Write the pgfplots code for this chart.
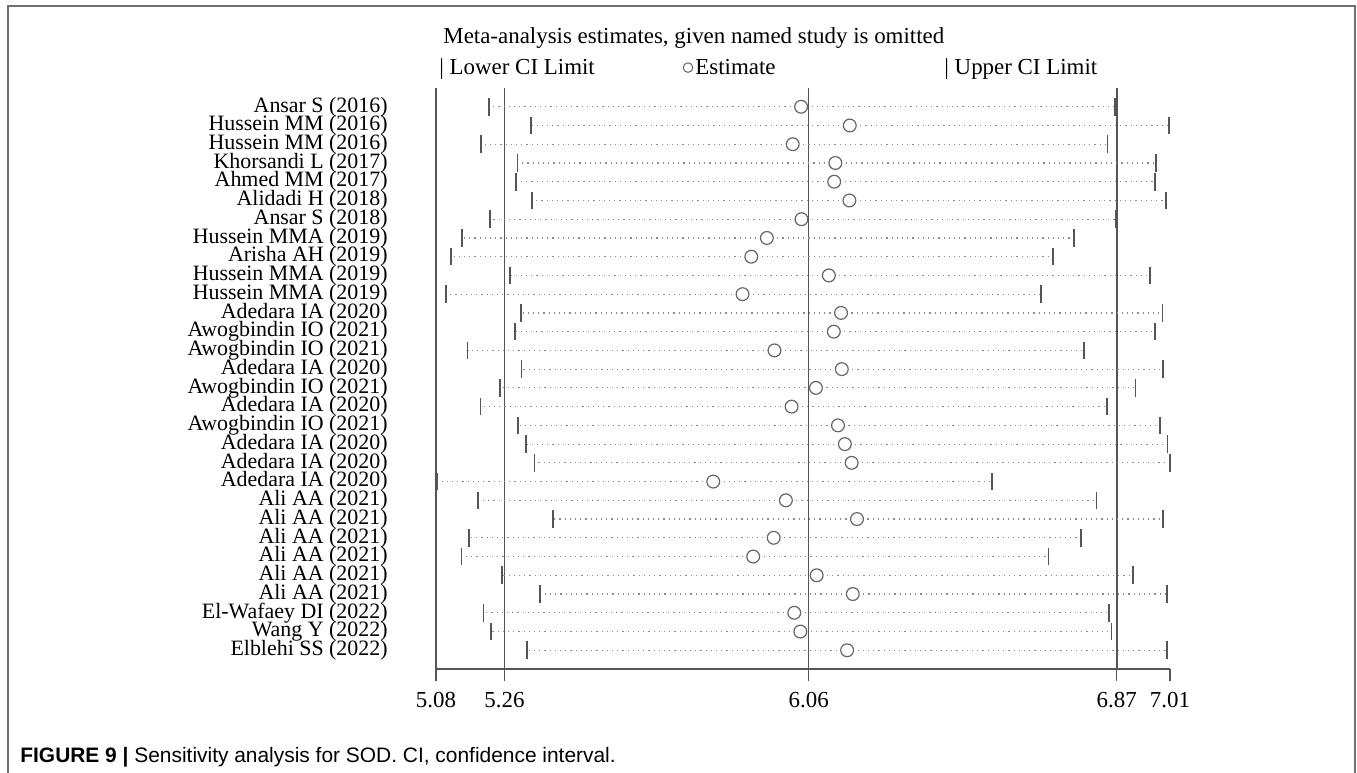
\documentclass[border=0pt]{standalone}
\usepackage{pgfplots}
\pgfplotsset{compat=1.18}
\usepackage{pgfplotstable}
\usepackage{fontspec}
\setmainfont{Liberation Serif}
\newfontfamily\capfont{Liberation Sans}
\definecolor{axgray}{HTML}{555555}
\definecolor{mkgray}{HTML}{666666}
\definecolor{dotgray}{HTML}{8A8A8A}
\definecolor{framegray}{HTML}{707070}

\pgfplotstableread{
y lo est hi
30 5.219 6.040 6.866
29 5.330 6.168 7.008
28 5.199 6.018 6.846
27 5.294 6.130 6.973
26 5.291 6.127 6.970
25 5.332 6.167 7.000
24 5.222 6.041 6.868
23 5.148 5.950 6.758
22 5.120 5.909 6.702
21 5.274 6.113 6.958
20 5.107 5.886 6.671
19 5.304 6.145 6.990
18 5.288 6.126 6.971
17 5.163 5.970 6.784
16 5.305 6.147 6.992
15 5.248 6.079 6.919
14 5.197 6.015 6.844
13 5.296 6.137 6.984
12 5.316 6.155 7.003
11 5.339 6.173 7.010
10 5.082 5.809 6.542
9 5.191 6.000 6.817
8 5.388 6.187 6.992
7 5.167 5.968 6.776
6 5.147 5.914 6.691
5 5.254 6.081 6.913
4 5.353 6.176 7.002
3 5.205 6.022 6.850
2 5.225 6.038 6.856
1 5.320 6.161 7.002
}\datatable

\begin{document}
\begin{tikzpicture}
\useasboundingbox (0,0) rectangle (678.5bp,-386.5bp);
% figure frame
\draw[framegray, line width=0.9bp] (4bp,-386.5bp) -- (4bp,-3bp) -- (677.5bp,-3bp) -- (677.5bp,-386.5bp);

\begin{axis}[
  at={(218bp,-334.5bp)}, anchor=south west,
  scale only axis, width=367bp, height=290.5bp,
  xmin=5.08, xmax=7.01, ymin=0, ymax=31,
  axis x line*=bottom, axis y line*=left,
  axis line style={axgray, line width=0.7bp},
  clip=false,
  xtick={5.08,5.26,6.06,6.87,7.01},
  xticklabels={5.08,5.26,6.06,6.87,7.01},
  xtick align=outside,
  x tick style={axgray, line width=0.7bp},
  major tick length=6bp,
  xticklabel style={font=\fontsize{11.5}{12}\selectfont, inner sep=0pt, anchor=north, yshift=-5.5bp},
  ytick={1,...,30},
  y tick style={draw=none},
  yticklabels={Elblehi SS (2022),Wang Y (2022),El-Wafaey DI (2022),Ali AA (2021),Ali AA (2021),Ali AA (2021),Ali AA (2021),Ali AA (2021),Ali AA (2021),Adedara IA (2020),Adedara IA (2020),Adedara IA (2020),Awogbindin IO (2021),Adedara IA (2020),Awogbindin IO (2021),Adedara IA (2020),Awogbindin IO (2021),Awogbindin IO (2021),Adedara IA (2020),Hussein MMA (2019),Hussein MMA (2019),Arisha AH (2019),Hussein MMA (2019),Ansar S (2018),Alidadi H (2018),Ahmed MM (2017),Khorsandi L (2017),Hussein MM (2016),Hussein MM (2016),Ansar S (2016)},
  yticklabel style={font=\fontsize{11}{11}\selectfont, inner sep=0pt, anchor=east, xshift=-24bp},
  /pgf/number format/assume math mode=true,
]
% reference lines
\addplot[axgray, line width=0.75bp] coordinates {(5.26,0) (5.26,31)};
\addplot[axgray, line width=0.75bp] coordinates {(6.06,0) (6.06,31)};
\addplot[axgray, line width=0.75bp] coordinates {(6.87,0) (6.87,31)};
% dotted CI lines
\addplot[draw=none, mark=none,
  error bars/.cd, x dir=both, x explicit,
  error mark=none,
  error bar style={dotgray, line width=0.6bp, dash pattern=on 0.6bp off 2bp}]
  table[x=est, y=y,
        x error plus expr=\thisrow{hi}-\thisrow{est},
        x error minus expr=\thisrow{est}-\thisrow{lo}] {\datatable};
% lower and upper limits
\addplot[only marks, mark=|, mark size=4.4bp, mark options={axgray, line width=0.8bp}] table[x=lo, y=y] {\datatable};
\addplot[only marks, mark=|, mark size=4.4bp, mark options={axgray, line width=0.8bp}] table[x=hi, y=y] {\datatable};
% estimates
\addplot[only marks, mark=*, mark size=3.2bp, mark options={draw=mkgray, fill=white, line width=0.6bp}] table[x=est, y=y] {\datatable};
\end{axis}

% title and legend
\node[anchor=base west, inner sep=0pt, font=\fontsize{11.5}{12}\selectfont] at (221.5bp,-21.5bp) {Meta-analysis estimates, given named study is omitted};
\node[anchor=base west, inner sep=0pt, font=\fontsize{11.5}{12}\selectfont] at (219.5bp,-37bp) {| Lower CI Limit};
\draw[mkgray, line width=0.5bp] (344bp,-33.8bp) circle (2.4bp);
\node[anchor=base west, inner sep=0pt, font=\fontsize{11.5}{12}\selectfont] at (347.5bp,-37bp) {Estimate};
\node[anchor=base west, inner sep=0pt, font=\fontsize{11.5}{12}\selectfont] at (472bp,-37bp) {| Upper CI Limit};

% caption
\node[anchor=west, inner sep=0pt, font=\capfont\fontsize{10.5}{11}\selectfont] at (10bp,-378.5bp) {\textbf{FIGURE 9 |} Sensitivity analysis for SOD. CI, confidence interval.};
\end{tikzpicture}
\end{document}
